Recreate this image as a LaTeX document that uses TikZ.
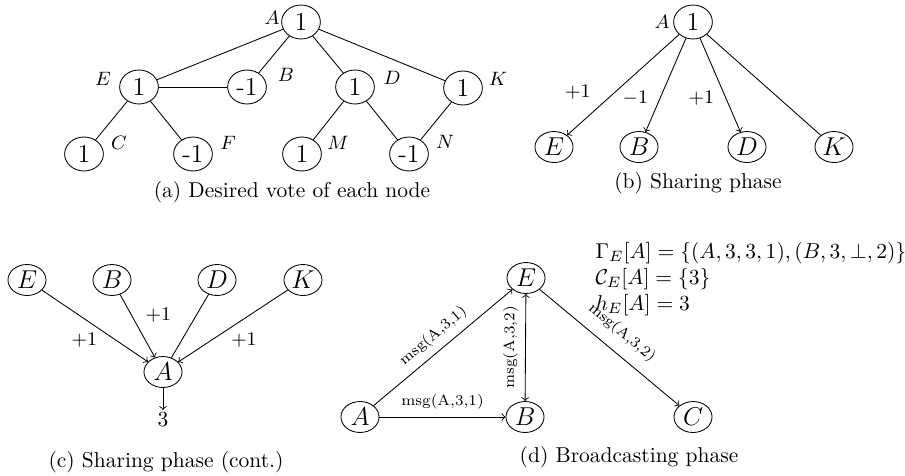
\documentclass[tikz,border=0pt]{standalone}
\usetikzlibrary{shapes.geometric}
\tikzset{
  vote/.style={ellipse, draw, font=\large, inner sep=0pt, minimum width=18pt, minimum height=15.8pt},
  peer/.style={ellipse, draw, font=\large, inner sep=0pt, minimum width=17.7pt, minimum height=14.4pt},
  tag/.style={font=\small},
  msg/.style={font=\scriptsize, midway, above, sloped},
}
\begin{document}
\begin{tikzpicture}[x=0.465pt, y=-0.465pt]
    \useasboundingbox (0,0) rectangle (905,475);

    % (a) desired vote of each node
    \node[vote] (aA) at (301,22) {1};
    \node[vote] (aE) at (139,87) {1};
    \node[vote] (aB) at (247,87) {-1};
    \node[vote] (aD) at (355,87) {1};
    \node[vote] (aK) at (463,88) {1};
    \node[vote] (aC) at (84,154) {1};
    \node[vote] (aF) at (193,154) {-1};
    \node[vote] (aM) at (302,154) {1};
    \node[vote] (aN) at (409,154) {-1};
    \node[tag] (aAl) at (272,18) {$A$};
    \node[tag] (aEl) at (103,79) {$E$};
    \node[tag] (aBl) at (286,75) {$B$};
    \node[tag] (aDl) at (392,78) {$D$};
    \node[tag] (aKl) at (498,79) {$K$};
    \node[tag] (aCl) at (119,143) {$C$};
    \node[tag] (aFl) at (228,143) {$F$};
    \node[tag] (aMl) at (338,143) {$M$};
    \node[tag] (aNl) at (445,142) {$N$};
    \draw (aA) -- (aE);
    \draw (aA) -- (aB);
    \draw (aA) -- (aD);
    \draw (aA) -- (aK);
    \draw (aE) -- (aB);
    \draw (aE) -- (aC);
    \draw (aE) -- (aF);
    \draw (aD) -- (aM);
    \draw (aD) -- (aN);
    \draw (aK) -- (aN);
    \node (capa) at (292,192) {(a) Desired vote of each node};

    % (b) sharing phase
    \node[vote] (bA) at (693,22) {1};
    \node[tag] (bAl) at (662,22) {$A$};
    \node[peer] (bE) at (554,147) {$E$};
    \node[peer] (bB) at (639,147) {$B$};
    \node[peer] (bD) at (747,147) {$D$};
    \node[peer] (bK) at (834,147) {$K$};
    \draw[->] (bA) -- node[tag, pos=0.57, left=8pt] {$+1$} (bE);
    \draw[->] (bA) -- node[tag, pos=0.64, left=2pt] {$-1$} (bB);
    \draw[->] (bA) -- node[tag, pos=0.64, left=2pt] {$+1$} (bD);
    \draw (bA) -- (bK);
    \node (capb) at (698,183) {(b) Sharing phase};

    % (c) sharing phase, continued
    \node[peer] (cE) at (27,280) {$E$};
    \node[peer] (cB) at (112,280) {$B$};
    \node[peer] (cD) at (217,280) {$D$};
    \node[peer] (cK) at (303,280) {$K$};
    \node[peer] (cA) at (163,372) {$A$};
    \node[inner sep=1pt] (cout) at (163,420) {3};
    \draw[->] (cE) -- node[tag, pos=0.4, below=3pt] {$+1$} (cA);
    \draw[->] (cB) -- node[tag, pos=0.33, right=3pt] {$+1$} (cA);
    \draw (cD) -- (cA);
    \draw[->] (cK) -- node[tag, pos=0.4, below=3pt] {$+1$} (cA);
    \draw[->] (cA) -- (cout);
    \node (capc) at (166,462) {(c) Sharing phase (cont.)};

    % (d) broadcasting phase
    \node[peer] (dA) at (360,417) {$A$};
    \node[peer] (dB) at (525,417) {$B$};
    \node[peer] (dE) at (526,278) {$E$};
    \node[peer] (dC) at (693,417) {$C$};
    \draw[->] (dA) -- node[msg] {msg(A,3,1)} (dE);
    \draw[->] (dA) -- node[msg] {msg(A,3,1)} (dB);
    \draw[<->] (dB) -- node[msg] {msg(A,3,2)} (dE);
    \draw[->] (dE) -- node[msg, above=2pt] {msg(A,3,2)} (dC);
    \node[align=left, anchor=west] (dinfo) at (588,279)
        {$\Gamma_E[A] = \{(A,3,3,1),(B,3,\bot,2)\}$\\
         $\mathcal{C}_E[A] = \{3\}$\\
         $h_E[A] = 3$};
    \node (capd) at (629,457) {(d) Broadcasting phase};
\end{tikzpicture}
\end{document}
